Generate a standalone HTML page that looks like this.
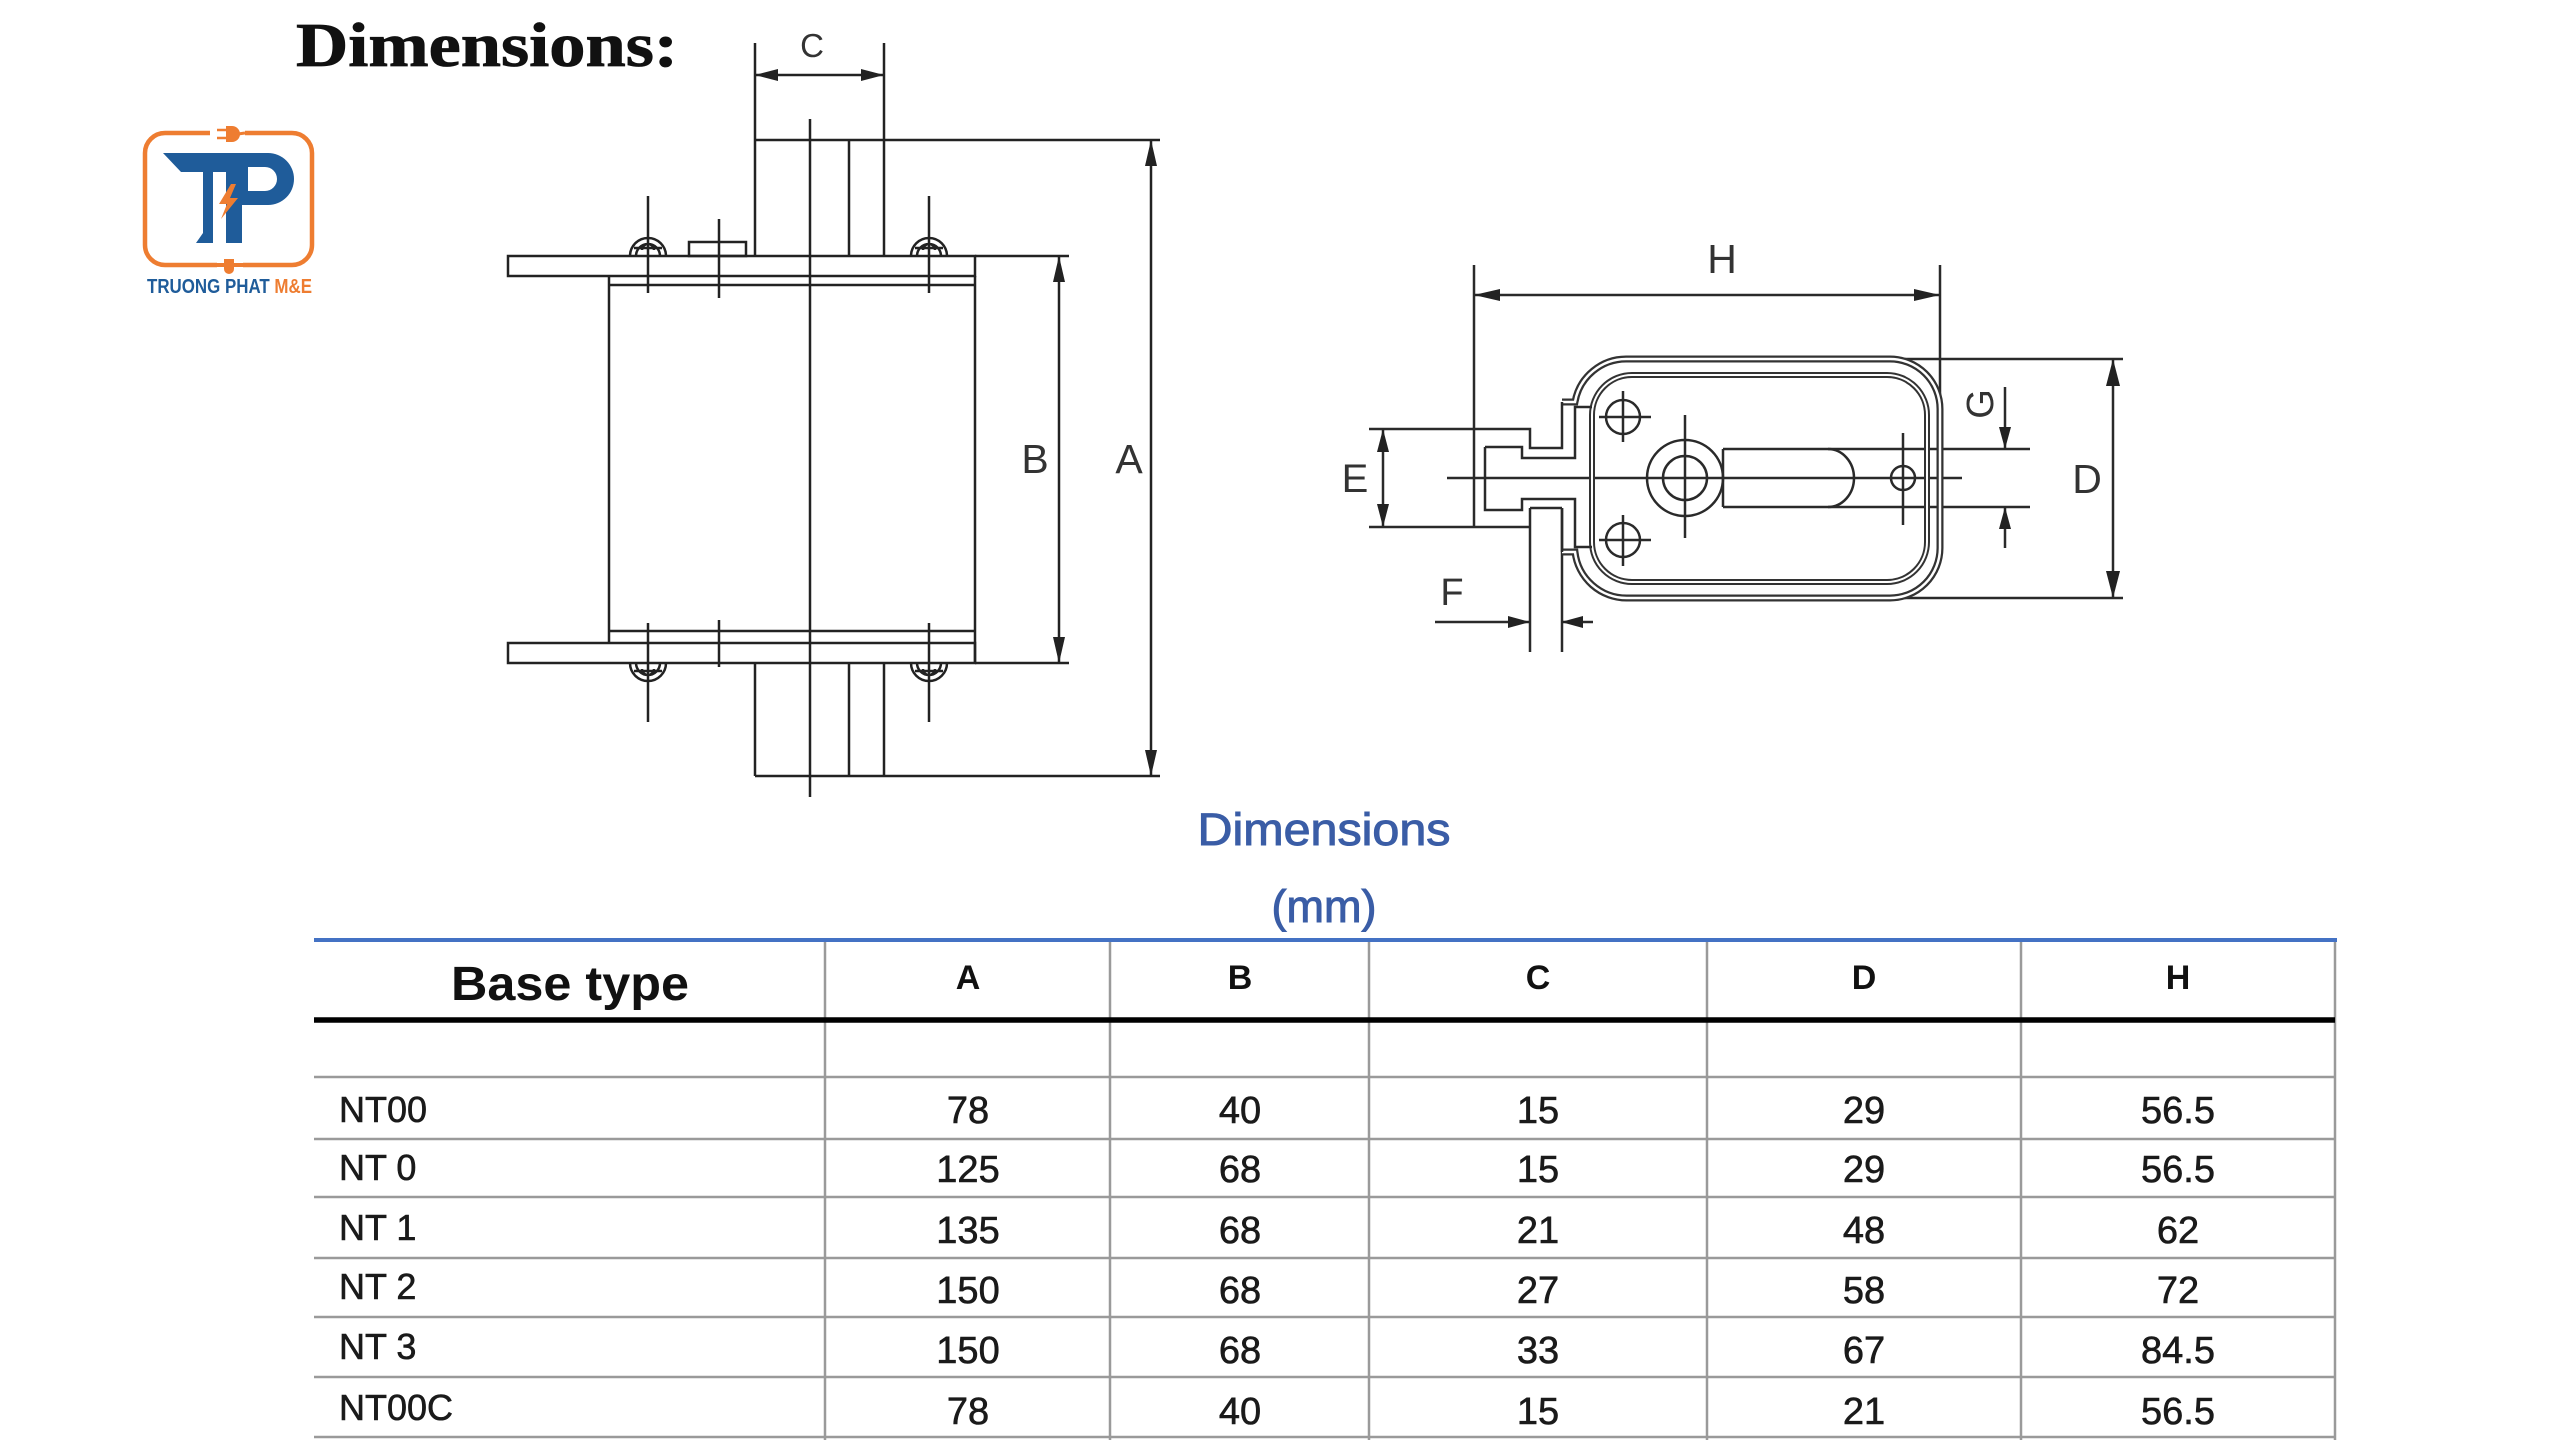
<!DOCTYPE html>
<html>
<head>
<meta charset="utf-8">
<style>
  html,body{margin:0;padding:0;background:#fff;}
  body{width:2560px;height:1440px;overflow:hidden;}
  svg{display:block;}
</style>
</head>
<body>
<svg width="2560" height="1440" viewBox="0 0 2560 1440" xmlns="http://www.w3.org/2000/svg">
  <rect x="0" y="0" width="2560" height="1440" fill="#fff"/>

  <!-- Title -->
  <text x="296" y="66" font-family="'Liberation Serif', serif" font-weight="bold" font-size="62" fill="#111" stroke="#111" stroke-width="0.8" textLength="382" lengthAdjust="spacingAndGlyphs">Dimensions:</text>

  <!-- Logo -->
  <g>
    <path d="M210,133 L165,133 A20,20 0 0 0 145,153 L145,245 A20,20 0 0 0 165,265 L217,265 M243,265 L292,265 A20,20 0 0 0 312,245 L312,153 A20,20 0 0 0 292,133 L245,133" fill="none" stroke="#EE7D31" stroke-width="4.5"/>
    <line x1="217" y1="130" x2="226" y2="130" stroke="#EE7D31" stroke-width="2.5"/>
    <line x1="217" y1="138" x2="226" y2="138" stroke="#EE7D31" stroke-width="2.5"/>
    <path d="M226,126 H232 A8,8 0 0 1 232,142 H226 Z" fill="#EE7D31"/>
    <line x1="238" y1="134" x2="245" y2="133" stroke="#EE7D31" stroke-width="3"/>
    <path d="M224,259 H234 V269 A5,5 0 0 1 229,274 A5,5 0 0 1 224,269 Z" fill="#EE7D31"/>
    <line x1="215" y1="265" x2="224" y2="265" stroke="#EE7D31" stroke-width="4"/>
    <line x1="234" y1="265" x2="243" y2="265" stroke="#EE7D31" stroke-width="4"/>
    <path d="M163,153 H232 V172 H213 V243 H196 L203,233 V172 H181 Z" fill="#1F5C9A"/>
    <path d="M226,153 H268 A26,26 0 0 1 268,205 H242 V243 H226 Z M248,167 V191 H265 A12,12 0 0 0 265,167 Z" fill="#1F5C9A" fill-rule="evenodd"/>
    <path d="M231,184 L219,204 L227,204 L221,219 L238,198 L230,198 L236,184 Z" fill="#EE7D31"/>
    <text x="147" y="293" font-family="'Liberation Sans', sans-serif" font-weight="bold" font-size="20" textLength="165" lengthAdjust="spacingAndGlyphs"><tspan fill="#1F5C9A">TRUONG PHAT </tspan><tspan fill="#EE7D31">M&amp;E</tspan></text>
  </g>

  <!-- LEFT DRAWING -->
  <g stroke="#222" stroke-width="2.5" fill="none">
    <line x1="755" y1="43" x2="755" y2="256"/>
    <line x1="884" y1="43" x2="884" y2="256"/>
    <line x1="755" y1="75" x2="884" y2="75"/>
    <line x1="755" y1="140" x2="1160" y2="140"/>
    <line x1="849" y1="140" x2="849" y2="256"/>
    <line x1="810" y1="119" x2="810" y2="797"/>
    <rect x="508" y="256" width="467" height="20"/>
    <line x1="975" y1="256" x2="1069" y2="256"/>
    <line x1="609" y1="285" x2="975" y2="285"/>
    <line x1="609" y1="276" x2="609" y2="643"/>
    <line x1="975" y1="276" x2="975" y2="663"/>
    <line x1="609" y1="631" x2="975" y2="631"/>
    <rect x="508" y="643" width="467" height="20"/>
    <line x1="975" y1="663" x2="1069" y2="663"/>
    <line x1="755" y1="663" x2="755" y2="776"/>
    <line x1="849" y1="663" x2="849" y2="776"/>
    <line x1="884" y1="663" x2="884" y2="776"/>
    <line x1="755" y1="776" x2="1160" y2="776"/>
    <line x1="1151" y1="140" x2="1151" y2="776"/>
    <line x1="1059" y1="256" x2="1059" y2="663"/>
    <rect x="689" y="242" width="57" height="14"/>
    <line x1="719" y1="219" x2="719" y2="298"/>
    <line x1="719" y1="620" x2="719" y2="667"/>
    <line x1="648" y1="196" x2="648" y2="293"/>
    <line x1="929" y1="196" x2="929" y2="293"/>
    <path d="M630,256 A18,18 0 0 1 666,256 M636,256 A12,12 0 0 1 660,256 M642,250 A6,6 0 0 1 654,250 M634,248 H662"/>
    <path d="M911,256 A18,18 0 0 1 947,256 M917,256 A12,12 0 0 1 941,256 M923,250 A6,6 0 0 1 935,250 M915,248 H943"/>
    <line x1="648" y1="623" x2="648" y2="722"/>
    <line x1="929" y1="623" x2="929" y2="722"/>
    <path d="M630,663 A18,18 0 0 0 666,663 M636,663 A12,12 0 0 0 660,663 M642,669 A6,6 0 0 0 654,669 M634,671 H662"/>
    <path d="M911,663 A18,18 0 0 0 947,663 M917,663 A12,12 0 0 0 941,663 M923,669 A6,6 0 0 0 935,669 M915,671 H943"/>
  </g>
  <g fill="#222">
    <polygon points="755,75 778,69 778,81"/>
    <polygon points="884,75 861,69 861,81"/>
    <polygon points="1151,140 1145,166 1157,166"/>
    <polygon points="1151,776 1145,750 1157,750"/>
    <polygon points="1059,256 1053,282 1065,282"/>
    <polygon points="1059,663 1053,637 1065,637"/>
  </g>
  <g font-family="'Liberation Sans', sans-serif" fill="#333" text-anchor="middle">
    <text x="812" y="57" font-size="33">C</text>
    <text x="1035" y="473" font-size="41">B</text>
    <text x="1129" y="473" font-size="41">A</text>
  </g>

  <!-- RIGHT DRAWING -->
  <g stroke="#2a2a2a" stroke-width="2.5" fill="none">
    <line x1="1474" y1="265" x2="1474" y2="527"/>
    <line x1="1940" y1="265" x2="1940" y2="410"/>
    <line x1="1474" y1="295" x2="1940" y2="295"/>
    <line x1="1890" y1="359" x2="2123" y2="359"/>
    <line x1="1890" y1="598" x2="2123" y2="598"/>
    <line x1="2113" y1="359" x2="2113" y2="598"/>
    <line x1="1369" y1="429" x2="1474" y2="429"/>
    <line x1="1369" y1="527" x2="1474" y2="527"/>
    <line x1="1383" y1="429" x2="1383" y2="527"/>
    <line x1="1435" y1="622" x2="1530" y2="622"/>
    <line x1="1561" y1="622" x2="1593" y2="622"/>
    <line x1="1530" y1="508" x2="1530" y2="652"/>
    <line x1="1562" y1="508" x2="1562" y2="652"/>
    <line x1="1530" y1="508" x2="1562" y2="508"/>
    <line x1="2005" y1="387" x2="2005" y2="449"/>
    <line x1="2005" y1="507" x2="2005" y2="548"/>
    <line x1="1723" y1="449" x2="2030" y2="449"/>
    <line x1="1723" y1="507" x2="2030" y2="507"/>
    <path d="M1828,449 A26,29 0 0 1 1828,507"/>
    <line x1="1723" y1="449" x2="1723" y2="507"/>
    <line x1="1447" y1="478" x2="1962" y2="478"/>
  </g>
  <path d="M1562,402 H1575 A52,52 0 0 1 1627,359 H1890 A50,50 0 0 1 1940,409 V548 A50,50 0 0 1 1890,598 H1627 A52,52 0 0 1 1575,552 H1562" fill="none" stroke="#333" stroke-width="7"/>
  <path d="M1562,402 H1575 A52,52 0 0 1 1627,359 H1890 A50,50 0 0 1 1940,409 V548 A50,50 0 0 1 1890,598 H1627 A52,52 0 0 1 1575,552 H1562" fill="none" stroke="#fff" stroke-width="2.5"/>
  <rect x="1592" y="375" width="335" height="207" rx="40" fill="none" stroke="#333" stroke-width="6"/>
  <rect x="1592" y="375" width="335" height="207" rx="40" fill="none" stroke="#fff" stroke-width="2"/>
  <g stroke="#2a2a2a" stroke-width="2.5" fill="none">
    <path d="M1474,429 H1530 V448 H1562 V402"/>
    <path d="M1485,447 H1522 V458 H1575 V407 H1592"/>
    <path d="M1485,447 V510 H1522 V499 H1575 V547 H1592"/>
    <path d="M1474,527 H1530"/>
    <line x1="1562" y1="508" x2="1562" y2="552"/>
    <circle cx="1685" cy="478" r="38"/>
    <circle cx="1685" cy="478" r="22"/>
    <line x1="1685" y1="415" x2="1685" y2="538"/>
    <circle cx="1623" cy="417" r="17"/>
    <line x1="1599" y1="417" x2="1651" y2="417"/>
    <line x1="1623" y1="391" x2="1623" y2="442"/>
    <circle cx="1623" cy="540" r="17"/>
    <line x1="1599" y1="540" x2="1651" y2="540"/>
    <line x1="1623" y1="515" x2="1623" y2="566"/>
    <circle cx="1903" cy="478" r="12"/>
    <line x1="1903" y1="433" x2="1903" y2="525"/>
  </g>
  <g fill="#222">
    <polygon points="1474,295 1500,289 1500,301"/>
    <polygon points="1940,295 1914,289 1914,301"/>
    <polygon points="2113,359 2106,386 2120,386"/>
    <polygon points="2113,598 2106,571 2120,571"/>
    <polygon points="1383,429 1377,452 1389,452"/>
    <polygon points="1383,527 1377,504 1389,504"/>
    <polygon points="2005,449 1999,427 2011,427"/>
    <polygon points="2005,507 1999,529 2011,529"/>
    <polygon points="1530,622 1508,616 1508,628"/>
    <polygon points="1561,622 1583,616 1583,628"/>
  </g>
  <g font-family="'Liberation Sans', sans-serif" fill="#333" text-anchor="middle">
    <text x="1722" y="273" font-size="41">H</text>
    <text x="2087" y="493" font-size="41">D</text>
    <text x="1355" y="492" font-size="40">E</text>
    <text x="1452" y="605" font-size="38">F</text>
    <text x="1980" y="417" font-size="38" transform="rotate(-90 1980 404)">G</text>
  </g>

  <!-- Blue heading -->
  <g font-family="'Liberation Sans', sans-serif" fill="#3A5DA6" stroke="#3A5DA6" stroke-width="1" text-anchor="middle">
    <text x="1324" y="845" font-size="45" textLength="253" lengthAdjust="spacingAndGlyphs">Dimensions</text>
    <text x="1324" y="922" font-size="45">(mm)</text>
  </g>

  <!-- TABLE -->
  <g stroke="#9a9a9a" stroke-width="2.5">
    <line x1="314" y1="1077" x2="2335" y2="1077"/>
    <line x1="314" y1="1139" x2="2335" y2="1139"/>
    <line x1="314" y1="1197" x2="2335" y2="1197"/>
    <line x1="314" y1="1258" x2="2335" y2="1258"/>
    <line x1="314" y1="1317" x2="2335" y2="1317"/>
    <line x1="314" y1="1377" x2="2335" y2="1377"/>
    <line x1="314" y1="1437" x2="2335" y2="1437"/>
    <line x1="825" y1="939" x2="825" y2="1440"/>
    <line x1="1110" y1="939" x2="1110" y2="1440"/>
    <line x1="1369" y1="939" x2="1369" y2="1440"/>
    <line x1="1707" y1="939" x2="1707" y2="1440"/>
    <line x1="2021" y1="939" x2="2021" y2="1440"/>
    <line x1="2335" y1="939" x2="2335" y2="1440"/>
  </g>
  <line x1="314" y1="940" x2="2337" y2="940" stroke="#4472C4" stroke-width="4"/>
  <line x1="314" y1="1020" x2="2335" y2="1020" stroke="#000" stroke-width="5.5"/>

  <g font-family="'Liberation Sans', sans-serif" fill="#111" font-weight="bold" text-anchor="middle">
    <text x="570" y="1000" font-size="48" textLength="238" lengthAdjust="spacingAndGlyphs">Base type</text>
    <text x="968" y="989" font-size="34">A</text>
    <text x="1240" y="989" font-size="34">B</text>
    <text x="1538" y="989" font-size="34">C</text>
    <text x="1864" y="989" font-size="34">D</text>
    <text x="2178" y="989" font-size="34">H</text>
  </g>

  <g font-family="'Liberation Sans', sans-serif" fill="#1a1a1a" stroke="#1a1a1a" stroke-width="0.6" font-size="36">
    <text x="339" y="1122">NT00</text>
    <text x="339" y="1180">NT 0</text>
    <text x="339" y="1240">NT 1</text>
    <text x="339" y="1299">NT 2</text>
    <text x="339" y="1359">NT 3</text>
    <text x="339" y="1420">NT00C</text>
  </g>

  <g font-family="'Liberation Sans', sans-serif" fill="#1a1a1a" stroke="#1a1a1a" stroke-width="0.6" font-size="38" text-anchor="middle">
    <text x="968" y="1123">78</text>
    <text x="1240" y="1123">40</text>
    <text x="1538" y="1123">15</text>
    <text x="1864" y="1123">29</text>
    <text x="2178" y="1123">56.5</text>

    <text x="968" y="1182">125</text>
    <text x="1240" y="1182">68</text>
    <text x="1538" y="1182">15</text>
    <text x="1864" y="1182">29</text>
    <text x="2178" y="1182">56.5</text>

    <text x="968" y="1243">135</text>
    <text x="1240" y="1243">68</text>
    <text x="1538" y="1243">21</text>
    <text x="1864" y="1243">48</text>
    <text x="2178" y="1243">62</text>

    <text x="968" y="1303">150</text>
    <text x="1240" y="1303">68</text>
    <text x="1538" y="1303">27</text>
    <text x="1864" y="1303">58</text>
    <text x="2178" y="1303">72</text>

    <text x="968" y="1363">150</text>
    <text x="1240" y="1363">68</text>
    <text x="1538" y="1363">33</text>
    <text x="1864" y="1363">67</text>
    <text x="2178" y="1363">84.5</text>

    <text x="968" y="1424">78</text>
    <text x="1240" y="1424">40</text>
    <text x="1538" y="1424">15</text>
    <text x="1864" y="1424">21</text>
    <text x="2178" y="1424">56.5</text>
  </g>
</svg>
</body>
</html>
